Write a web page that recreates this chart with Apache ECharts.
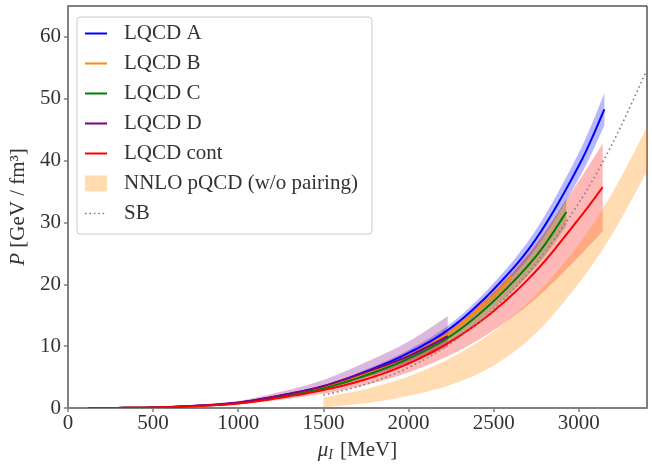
<!DOCTYPE html>
<html><head><meta charset="utf-8">
<script src="https://cdn.jsdelivr.net/npm/echarts@6/dist/echarts.min.js"></script>
<style>html,body{margin:0;padding:0;background:#fff}#c{width:652px;height:467px}</style>
</head><body><div id="c"></div>
<script>
// ---- data ----
const xTicks = [0, 500, 1000, 1500, 2000, 2500, 3000];
const yTicks = [0, 10, 20, 30, 40, 50, 60];

const muA = [120, 250, 500, 750, 1000, 1250, 1500, 1750, 2000, 2250, 2500, 2750, 3000, 3150];
const pA = [0, 0.01, 0.08, 0.35, 0.85, 2.0, 3.5, 5.9, 8.9, 13.0, 19.2, 27.4, 39.2, 48.3];
const pALow = [0, 0.01, 0.075, 0.33, 0.80, 1.89, 3.31, 5.58, 8.42, 12.3, 18.2, 25.9, 37.1, 45.7];
const pAHigh = [0, 0.01, 0.085, 0.37, 0.90, 2.11, 3.69, 6.22, 9.38, 13.7, 20.2, 28.9, 41.3, 50.9];

const muB = [120, 250, 500, 750, 1000, 1250, 1500, 1750, 2000, 2250, 2500, 2607];
const pB = [0, 0.01, 0.08, 0.33, 0.81, 1.9, 3.33, 5.6, 8.45, 12.35, 18.2, 21.3];
const pBLow = [0, 0.01, 0.078, 0.32, 0.79, 1.84, 3.23, 5.43, 8.2, 12.0, 17.65, 20.7];
const pBHigh = [0, 0.01, 0.082, 0.34, 0.83, 1.96, 3.43, 5.77, 8.7, 12.7, 18.75, 21.9];

const muC = [120, 250, 500, 750, 1000, 1250, 1500, 1750, 2000, 2250, 2500, 2750, 2927];
const pC = [0, 0.01, 0.07, 0.32, 0.78, 1.82, 3.17, 5.3, 8.0, 11.7, 17.3, 24.6, 31.7];
const pCLow = [0, 0.01, 0.065, 0.30, 0.73, 1.69, 2.95, 4.93, 7.44, 10.9, 16.1, 22.9, 29.5];
const pCHigh = [0, 0.01, 0.075, 0.34, 0.83, 1.95, 3.39, 5.67, 8.56, 12.5, 18.5, 26.3, 33.9];

const muD = [120, 250, 500, 750, 1000, 1250, 1500, 1750, 2000, 2230];
const pD = [0, 0.01, 0.09, 0.38, 0.9, 2.05, 3.55, 5.8, 8.4, 11.6];
const pDLow = [0, 0.01, 0.077, 0.32, 0.77, 1.74, 3.02, 4.93, 7.14, 9.86];
const pDHigh = [0, 0.013, 0.115, 0.49, 1.15, 2.62, 4.54, 7.42, 10.75, 14.85];

const muCont = [120, 250, 500, 750, 1000, 1250, 1500, 1750, 2000, 2250, 2500, 2750, 3000, 3140];
const pCont = [0, 0.01, 0.07, 0.3, 0.72, 1.67, 2.9, 4.65, 7.2, 10.8, 15.7, 22.2, 30.6, 35.7];
const pContLow = [0, 0.008, 0.056, 0.24, 0.58, 1.34, 2.32, 3.72, 5.76, 8.64, 12.56, 17.76, 24.5, 28.6];
const pContHigh = [0, 0.012, 0.084, 0.36, 0.86, 2.0, 3.48, 5.58, 8.64, 12.96, 18.84, 26.64, 36.7, 42.8];

const muSB = [1500, 1750, 2000, 2250, 2500, 2750, 3000, 3200, 3400];
const pSB = [2.07, 3.84, 6.55, 10.49, 15.99, 23.41, 33.16, 42.92, 54.7];

const muPQCD = [1500, 1750, 2000, 2250, 2500, 2750, 3000, 3200, 3400];
const pPQCDLow = [0.10, 0.77, 1.97, 3.78, 6.88, 12.17, 20.2, 28.3, 38.3];
const pPQCDHigh = [1.70, 3.07, 5.11, 8.13, 12.39, 18.38, 26.5, 34.98, 45.4];

const names = ['LQCD A', 'LQCD B', 'LQCD C', 'LQCD D', 'LQCD cont', 'NNLO pQCD (w/o pairing)', 'SB'];
// ---------------------------------------------------

const FONT = 'Liberation Serif';
const TXT = '#333333';
const chart = echarts.init(document.getElementById('c'), null, {renderer: 'canvas'});

// Catmull-Rom smoothing of pixel points (rendering only)
function smoothPts(pts) {
  const out = [pts[0]];
  const n = 10;
  for (let i = 0; i < pts.length - 1; i++) {
    const p0 = pts[i - 1] || pts[i], p1 = pts[i], p2 = pts[i + 1], p3 = pts[i + 2] || pts[i + 1];
    const c1 = [p1[0] + (p2[0] - p0[0]) / 6, p1[1] + (p2[1] - p0[1]) / 6];
    const c2 = [p2[0] - (p3[0] - p1[0]) / 6, p2[1] - (p3[1] - p1[1]) / 6];
    for (let k = 1; k <= n; k++) {
      const t = k / n, u = 1 - t;
      out.push([
        u*u*u*p1[0] + 3*u*u*t*c1[0] + 3*u*t*t*c2[0] + t*t*t*p2[0],
        u*u*u*p1[1] + 3*u*u*t*c1[1] + 3*u*t*t*c2[1] + t*t*t*p2[1]
      ]);
    }
  }
  return out;
}

function bandSeries(name, xs, lo, hi, color) {
  return {
    type: 'custom', name: name, z: 1, clip: true, silent: true,
    itemStyle: {color: color},
    encode: {x: 0, y: [1, 2]},
    data: xs.map((x, i) => [x, lo[i], hi[i]]),
    renderItem: function (params, api) {
      if (params.dataIndex !== 0) return null;
      const up = smoothPts(xs.map((x, i) => api.coord([x, hi[i]])));
      const dn = smoothPts(xs.map((x, i) => api.coord([x, lo[i]])).reverse());
      return {type: 'polygon', shape: {points: up.concat(dn)}, style: {fill: color}};
    }
  };
}

function curveSeries(name, xs, ys, color, width, dash, z) {
  return {
    type: 'custom', name: name, z: z || 3, clip: true, silent: true,
    itemStyle: {color: color},
    encode: {x: 0, y: 1},
    data: xs.map((x, i) => [x, ys[i]]),
    renderItem: function (params, api) {
      if (params.dataIndex !== 0) return null;
      const pts = smoothPts(xs.map((x, i) => api.coord([x, ys[i]])));
      return {type: 'polyline', shape: {points: pts},
        style: {stroke: color, lineWidth: width, fill: null, lineDash: dash || null, lineCap: 'butt'}};
    }
  };
}

const LINE_ICON = 'path://M0 0L0.01 0M0 7L22 7L22 9L0 9ZM22 16L21.99 16';
const DOT_ICON = 'path://M0 0L0.01 0M0 7.2h1.6v1.6h-1.6zM4.4 7.2h1.6v1.6h-1.6zM8.8 7.2h1.6v1.6h-1.6zM13.2 7.2h1.6v1.6h-1.6zM17.6 7.2h1.6v1.6h-1.6zM22 16L21.99 16';

const axisCommon = {
  type: 'value',
  axisLine: {show: true, onZero: false, lineStyle: {color: '#808080', width: 2}},
  axisTick: {show: true, inside: false, length: 4, lineStyle: {color: '#808080', width: 1.5}},
  splitLine: {show: false}
};

const option = {
  animation: false,
  backgroundColor: '#ffffff',
  grid: {left: 66, right: 5, top: 6, bottom: 53, show: true, borderColor: '#000', borderWidth: 1},
  xAxis: Object.assign({}, axisCommon, {
    min: xTicks[0], max: 3400, interval: xTicks[1] - xTicks[0],
    name: '{i|μ}{sub|I} [MeV]', nameLocation: 'middle', nameGap: 30,
    nameTextStyle: {fontFamily: FONT, fontSize: 21, color: TXT,
      rich: {i: {fontFamily: FONT, fontStyle: 'italic', fontSize: 21, color: TXT},
             sub: {fontFamily: FONT, fontStyle: 'italic', fontSize: 14, color: TXT, padding: [10, 2, 0, 0]}}},
    axisLabel: {fontFamily: FONT, fontSize: 21, color: TXT, margin: 5, showMaxLabel: false,
      formatter: v => String(v)}
  }),
  yAxis: Object.assign({}, axisCommon, {
    min: yTicks[0], max: 65, interval: yTicks[1] - yTicks[0],
    name: '{i|P} [GeV / fm³]', nameLocation: 'middle', nameGap: 35, nameRotate: 90,
    nameTextStyle: {fontFamily: FONT, fontSize: 21, color: TXT,
      rich: {i: {fontFamily: FONT, fontStyle: 'italic', fontSize: 21, color: TXT}}},
    axisLabel: {fontFamily: FONT, fontSize: 21, color: TXT, margin: 7, showMaxLabel: false,
      formatter: v => String(v)}
  }),
  legend: {
    orient: 'vertical', left: 77, top: 17, selectedMode: false,
    padding: [6, 14, 10, 8], itemGap: 9, itemWidth: 22, itemHeight: 16,
    backgroundColor: 'rgba(255,255,255,0.85)', borderColor: '#cccccc', borderWidth: 1, borderRadius: 3,
    textStyle: {fontFamily: FONT, fontSize: 21, color: TXT, padding: [0, 0, 0, 12]},
    data: [
      {name: names[0], icon: LINE_ICON}, {name: names[1], icon: LINE_ICON},
      {name: names[2], icon: LINE_ICON}, {name: names[3], icon: LINE_ICON},
      {name: names[4], icon: LINE_ICON},
      {name: names[5], icon: 'rect'},
      {name: names[6], icon: DOT_ICON}
    ]
  },
  series: [
    bandSeries('A band', muA, pALow, pAHigh, 'rgba(0,0,255,0.28)'),
    bandSeries('B band', muB, pBLow, pBHigh, 'rgba(255,140,0,0.28)'),
    bandSeries('C band', muC, pCLow, pCHigh, 'rgba(0,128,0,0.28)'),
    bandSeries('D band', muD, pDLow, pDHigh, 'rgba(128,0,128,0.28)'),
    bandSeries('cont band', muCont, pContLow, pContHigh, 'rgba(255,0,0,0.28)'),
    bandSeries(names[5], muPQCD, pPQCDLow, pPQCDHigh, 'rgba(255,140,0,0.3)'),
    curveSeries(names[0], muA, pA, '#0000ff', 2),
    curveSeries(names[1], muB, pB, '#ff8c00', 2),
    curveSeries(names[2], muC, pC, '#008000', 2),
    curveSeries(names[3], muD, pD, '#800080', 2),
    curveSeries(names[4], muCont, pCont, '#ff0000', 2),
    curveSeries(names[6], muSB, pSB, '#808080', 1.6, [1.6, 3], 4)
  ]
};
chart.setOption(option);
</script>
</body></html>
